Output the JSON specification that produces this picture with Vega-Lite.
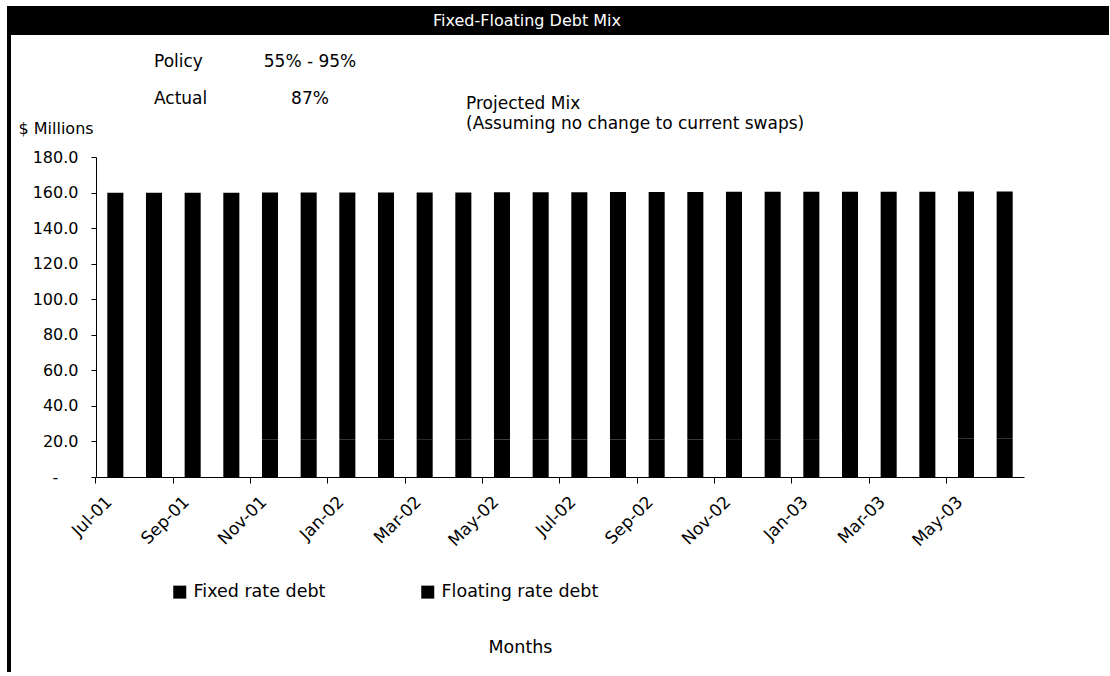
{
  "$schema": "https://vega.github.io/schema/vega-lite/v6.json",
  "background": "white",
  "padding": {"left": 7, "top": 6, "right": 0, "bottom": 0},
  "config": {
    "font": "DejaVu Sans",
    "view": {"stroke": null},
    "axis": {"domainColor": "black", "tickColor": "black", "labelColor": "black", "titleColor": "black", "grid": false, "labelFont": "DejaVu Sans", "titleFont": "DejaVu Sans", "titleFontWeight": "normal"},
    "legend": {"labelFont": "DejaVu Sans", "labelColor": "black"}
  },
  "spacing": 0,
  "hconcat": [
    {
      "width": 4,
      "height": 666,
      "view": {"fill": "black", "stroke": null},
      "data": {"values": [{"t": ""}]},
      "mark": {"type": "text"},
      "encoding": {"text": {"field": "t"}}
    },
    {
      "spacing": 18,
      "center": true,
      "vconcat": [
        {
          "width": 1098,
          "height": 29,
          "view": {"fill": "black", "stroke": null},
          "data": {"values": [{"title": "Fixed-Floating Debt Mix"}]},
          "mark": {"type": "text", "color": "white", "fontSize": 16, "dx": -33, "baseline": "middle"},
          "encoding": {"text": {"field": "title"}}
        },
        {
          "width": 928,
          "height": 320,
          "view": {"stroke": null},
          "resolve": {"scale": {"x": "independent", "y": "independent"}},
          "layer": [
            {
              "data": {"values": [
                {"month": "Jul-01", "type": "Fixed rate debt", "amount": 139.1}, {"month": "Jul-01", "type": "Floating rate debt", "amount": 20.8},
                {"month": "Aug-01", "type": "Fixed rate debt", "amount": 139.1}, {"month": "Aug-01", "type": "Floating rate debt", "amount": 20.8},
                {"month": "Sep-01", "type": "Fixed rate debt", "amount": 139.1}, {"month": "Sep-01", "type": "Floating rate debt", "amount": 20.8},
                {"month": "Oct-01", "type": "Fixed rate debt", "amount": 139.1}, {"month": "Oct-01", "type": "Floating rate debt", "amount": 20.8},
                {"month": "Nov-01", "type": "Fixed rate debt", "amount": 139.1}, {"month": "Nov-01", "type": "Floating rate debt", "amount": 20.9},
                {"month": "Dec-01", "type": "Fixed rate debt", "amount": 139.1}, {"month": "Dec-01", "type": "Floating rate debt", "amount": 20.9},
                {"month": "Jan-02", "type": "Fixed rate debt", "amount": 139.1}, {"month": "Jan-02", "type": "Floating rate debt", "amount": 20.9},
                {"month": "Feb-02", "type": "Fixed rate debt", "amount": 139.1}, {"month": "Feb-02", "type": "Floating rate debt", "amount": 21.0},
                {"month": "Mar-02", "type": "Fixed rate debt", "amount": 139.1}, {"month": "Mar-02", "type": "Floating rate debt", "amount": 21.0},
                {"month": "Apr-02", "type": "Fixed rate debt", "amount": 139.1}, {"month": "Apr-02", "type": "Floating rate debt", "amount": 21.0},
                {"month": "May-02", "type": "Fixed rate debt", "amount": 139.1}, {"month": "May-02", "type": "Floating rate debt", "amount": 21.1},
                {"month": "Jun-02", "type": "Fixed rate debt", "amount": 139.1}, {"month": "Jun-02", "type": "Floating rate debt", "amount": 21.1},
                {"month": "Jul-02", "type": "Fixed rate debt", "amount": 139.1}, {"month": "Jul-02", "type": "Floating rate debt", "amount": 21.1},
                {"month": "Aug-02", "type": "Fixed rate debt", "amount": 139.1}, {"month": "Aug-02", "type": "Floating rate debt", "amount": 21.2},
                {"month": "Sep-02", "type": "Fixed rate debt", "amount": 139.1}, {"month": "Sep-02", "type": "Floating rate debt", "amount": 21.2},
                {"month": "Oct-02", "type": "Fixed rate debt", "amount": 139.1}, {"month": "Oct-02", "type": "Floating rate debt", "amount": 21.2},
                {"month": "Nov-02", "type": "Fixed rate debt", "amount": 139.1}, {"month": "Nov-02", "type": "Floating rate debt", "amount": 21.3},
                {"month": "Dec-02", "type": "Fixed rate debt", "amount": 139.1}, {"month": "Dec-02", "type": "Floating rate debt", "amount": 21.3},
                {"month": "Jan-03", "type": "Fixed rate debt", "amount": 139.1}, {"month": "Jan-03", "type": "Floating rate debt", "amount": 21.3},
                {"month": "Feb-03", "type": "Fixed rate debt", "amount": 139.1}, {"month": "Feb-03", "type": "Floating rate debt", "amount": 21.4},
                {"month": "Mar-03", "type": "Fixed rate debt", "amount": 139.1}, {"month": "Mar-03", "type": "Floating rate debt", "amount": 21.4},
                {"month": "Apr-03", "type": "Fixed rate debt", "amount": 139.1}, {"month": "Apr-03", "type": "Floating rate debt", "amount": 21.4},
                {"month": "May-03", "type": "Fixed rate debt", "amount": 139.1}, {"month": "May-03", "type": "Floating rate debt", "amount": 21.5},
                {"month": "Jun-03", "type": "Fixed rate debt", "amount": 139.1}, {"month": "Jun-03", "type": "Floating rate debt", "amount": 21.5}
              ]},
              "mark": {"type": "bar"},
              "encoding": {
                "x": {
                  "field": "month", "type": "nominal", "sort": null,
                  "scale": {"paddingInner": 0.585, "paddingOuter": 0.2925},
                  "axis": {
                    "title": "Months",
                    "values": ["Jul-01", "Sep-01", "Nov-01", "Jan-02", "Mar-02", "May-02", "Jul-02", "Sep-02", "Nov-02", "Jan-03", "Mar-03", "May-03"],
                    "bandPosition": -0.707,
                    "labelOffset": -6,
                    "labelAngle": -45,
                    "labelAlign": "right",
                    "labelBaseline": "middle",
                    "labelPadding": 16,
                    "labelOverlap": false,
                    "labelFontSize": 17,
                    "tickSize": 6,
                    "titleFontSize": 17.5,
                    "titleX": 424,
                    "titleY": 170,
                    "titleAlign": "center",
                    "titleBaseline": "middle"
                  }
                },
                "y": {
                  "field": "amount", "type": "quantitative", "stack": "zero",
                  "scale": {"domain": [0, 180], "nice": false},
                  "axis": {
                    "title": "$ Millions",
                    "values": [0, 20, 40, 60, 80, 100, 120, 140, 160, 180],
                    "labelExpr": "datum.value == 0 ? '-\u00a0\u00a0\u00a0\u00a0\u200b' : format(datum.value, '.1f')",
                    "tickSize": 5,
                    "labelPadding": 13,
                    "labelFontSize": 16,
                    "titleAngle": 0,
                    "titleAlign": "left",
                    "titleBaseline": "middle",
                    "titleX": -78,
                    "titleY": -29,
                    "titleFontSize": 16
                  }
                },
                "color": {
                  "field": "type", "type": "nominal",
                  "scale": {"domain": ["Fixed rate debt", "Floating rate debt"], "range": ["#000000", "#000000"]},
                  "legend": {
                    "title": null,
                    "orient": "none",
                    "legendX": 164,
                    "legendY": 577,
                    "direction": "horizontal",
                    "symbolType": "square",
                    "symbolSize": 169,
                    "symbolStrokeWidth": 0,
                    "labelFontSize": 17.5,
                    "labelOffset": 5,
                    "columnPadding": 93
                  }
                }
              }
            },
            {
              "encoding": {
                "x": {"field": "col", "type": "nominal", "scale": {"type": "point", "domain": ["label", "value", "note"], "range": [58, 370], "padding": 0}, "axis": null},
                "y": {"field": "line", "type": "nominal", "scale": {"type": "point", "domain": ["1", "2"], "range": [-95, -58], "padding": 0}, "axis": null},
                "text": {"field": "text"}
              },
              "layer": [
                {
                  "data": {"values": [
                    {"col": "label", "line": "1", "text": "Policy"},
                    {"col": "label", "line": "2", "text": "Actual"}
                  ]},
                  "mark": {"type": "text", "align": "left", "baseline": "middle", "fontSize": 17, "color": "black"}
                },
                {
                  "data": {"values": [
                    {"col": "value", "line": "1", "text": "55% - 95%"},
                    {"col": "value", "line": "2", "text": "87%"}
                  ]},
                  "mark": {"type": "text", "align": "center", "baseline": "middle", "fontSize": 17, "color": "black"}
                },
                {
                  "data": {"values": [
                    {"col": "note", "line": "2", "text": "Projected Mix\n(Assuming no change to current swaps)"}
                  ]},
                  "mark": {"type": "text", "align": "left", "baseline": "middle", "fontSize": 17, "color": "black", "lineBreak": "\n", "lineHeight": 20, "dy": 5}
                }
              ]
            }
          ]
        }
      ]
    }
  ]
}
